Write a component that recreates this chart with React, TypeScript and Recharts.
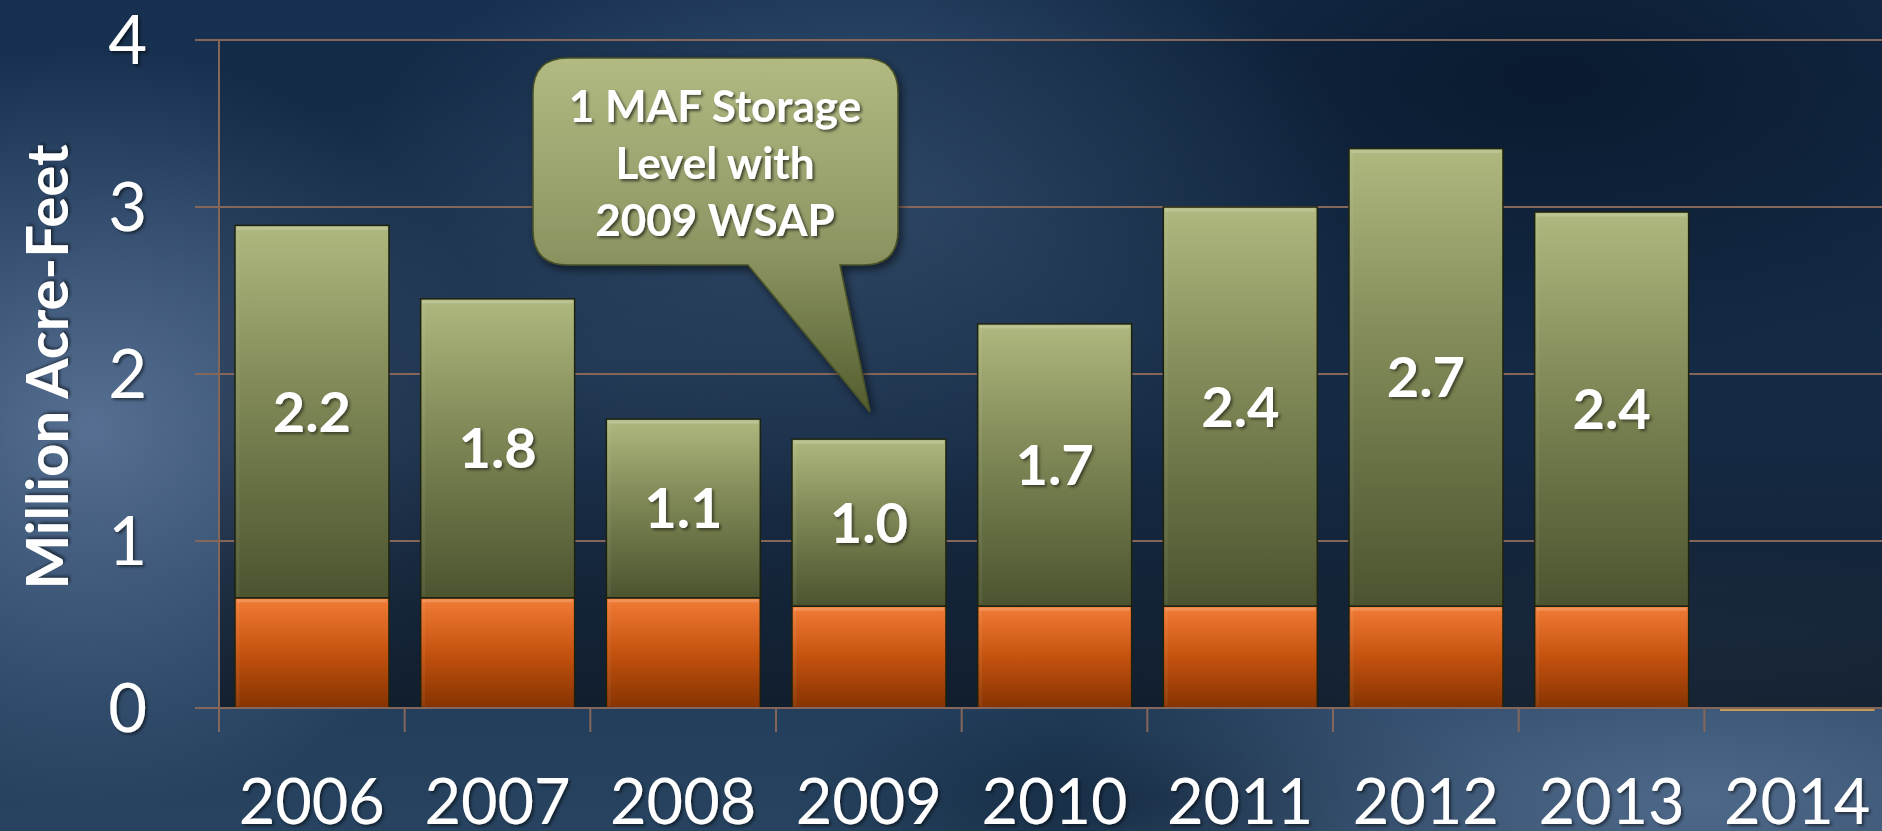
import React from 'react';
import { BarChart, Bar, XAxis, YAxis, CartesianGrid, LabelList } from 'recharts';

// values (million acre-feet)
const years = ['2006', '2007', '2008', '2009', '2010', '2011', '2012', '2013', '2014'];
const baseStorage = [0.66, 0.66, 0.66, 0.61, 0.61, 0.61, 0.61, 0.61, 0];
const addedStorage = [2.23, 1.79, 1.07, 1.0, 1.69, 2.39, 2.74, 2.36, null];
const yTicks = [0, 1, 2, 3, 4];
const calloutLines = ['1 MAF Storage', 'Level with', '2009 WSAP'];

const data = years.map((year, i) => ({ year, base: baseStorage[i], added: addedStorage[i] }));

const CHART_W = 1890;
const CHART_H = 831;
const Y_AXIS_W = 219;
const X_AXIS_H = 100;
const STEP = (CHART_W - Y_AXIS_W) / years.length;
const GRID = '#85665a';
const FONT = 'Lato, "Open Sans", sans-serif';

const BevelBar = (props: any) => {
  const { x, y, width, height, fill } = props;
  if (!height || height < 1) {
    // empty year: only a thin rim is left on the baseline
    return <line x1={x} x2={x + width} y1={y + 2} y2={y + 2} stroke="#c49a55" strokeWidth={2} />;
  }
  return (
    <g>
      <rect x={x} y={y} width={width} height={height} fill={fill} stroke="#1d2210" strokeWidth={1.5} />
      <rect x={x + 2} y={y + 1.5} width={width - 4} height={3} fill="rgba(255,255,255,0.18)" />
      <rect x={x + 1.5} y={y + 2} width={3} height={height - 4} fill="rgba(255,255,255,0.06)" />
    </g>
  );
};

const XTick = (props: any) => {
  const { x, y, payload } = props;
  return (
    <g>
      <line x1={x - STEP / 2} x2={x - STEP / 2} y1={y} y2={y + 24} stroke={GRID} strokeWidth={2} />
      <text x={x} y={y + 116} textAnchor="middle" fill="#fff" fontSize={63} fontFamily={FONT} filter="url(#txtShadow)">
        {payload.value}
      </text>
    </g>
  );
};

const YTick = (props: any) => {
  const { x, y, payload } = props;
  return (
    <text x={x} y={y} dy={24} textAnchor="end" fill="#fff" fontSize={67} fontFamily={FONT} filter="url(#txtShadow)">
      {payload.value}
    </text>
  );
};

const YTitle = (props: any) => {
  const { viewBox } = props;
  const cx = 68;
  const cy = viewBox.y + viewBox.height / 2 - 7;
  return (
    <text
      x={cx}
      y={cy}
      transform={`rotate(-90 ${cx} ${cy})`}
      textAnchor="middle"
      fill="#fff"
      fontSize={58}
      fontWeight={700}
      fontFamily={FONT}
      filter="url(#txtShadow)"
    >
      Million Acre-Feet
    </text>
  );
};

const ValueLabel = (props: any) => {
  const { x, y, width, height, value } = props;
  if (value == null) return null;
  return (
    <text
      x={x + width / 2}
      y={y + height / 2}
      dy={20}
      textAnchor="middle"
      fill="#fff"
      fontSize={56}
      fontWeight={700}
      fontFamily={FONT}
      filter="url(#txtShadow)"
    >
      {Number(value).toFixed(1)}
    </text>
  );
};

const Callout = () => (
  <svg width={1882} height={831} style={{ position: 'absolute', left: 0, top: 0, pointerEvents: 'none' }}>
    <defs>
      <linearGradient id="calloutFill" x1="0" y1="58" x2="0" y2="412" gradientUnits="userSpaceOnUse">
        <stop offset="0%" stopColor="#b2ba82" />
        <stop offset="55%" stopColor="#8c9562" />
        <stop offset="100%" stopColor="#535d2e" />
      </linearGradient>
      <filter id="calloutShadow" x="-10%" y="-10%" width="130%" height="130%">
        <feDropShadow dx="3" dy="4" stdDeviation="4" floodColor="#000" floodOpacity="0.55" />
      </filter>
      <filter id="calloutTxt">
        <feDropShadow dx="2" dy="2" stdDeviation="1.5" floodColor="#000" floodOpacity="0.6" />
      </filter>
    </defs>
    <path
      d="M568,58 H863 Q898,58 898,93 V230 Q898,265 863,265 H840 L870,412 L748,265 H568 Q533,265 533,230 V93 Q533,58 568,58 Z"
      fill="url(#calloutFill)"
      stroke="#4a5228"
      strokeWidth={1.5}
      filter="url(#calloutShadow)"
    />
    {calloutLines.map((line, i) => (
      <text
        key={line}
        x={715}
        y={122 + i * 57}
        textAnchor="middle"
        fill="#fff"
        fontSize={44}
        fontWeight={700}
        fontFamily={FONT}
        filter="url(#calloutTxt)"
      >
        {line}
      </text>
    ))}
  </svg>
);

export default function App() {
  return (
    <div
      style={{
        position: 'absolute',
        left: 0,
        top: 0,
        width: 1882,
        height: 831,
        overflow: 'hidden',
        background: [
          'radial-gradient(ellipse 420px 380px at 90px 430px, rgba(100,125,160,0.8), rgba(100,125,160,0) 100%)',
          'radial-gradient(ellipse 650px 260px at 1700px 800px, rgba(95,120,155,0.7), rgba(95,120,155,0) 100%)',
          'radial-gradient(ellipse 520px 300px at 860px 210px, rgba(80,110,145,0.6), rgba(80,110,145,0) 100%)',
          'radial-gradient(ellipse 650px 280px at 600px 360px, rgba(70,100,135,0.4), rgba(70,100,135,0) 100%)',
          'radial-gradient(ellipse 360px 120px at 1150px 800px, rgba(8,25,45,0.6), rgba(8,25,45,0) 100%)',
          'radial-gradient(ellipse 650px 300px at 1550px 80px, rgba(5,18,35,0.7), rgba(5,18,35,0) 100%)',
          'linear-gradient(180deg, #17304f 0%, #1c3757 60%, #27435f 100%)',
        ].join(', '),
      }}
    >
      <BarChart
        width={CHART_W}
        height={CHART_H}
        data={data}
        margin={{ top: 40, right: 0, bottom: 23, left: 0 }}
        barCategoryGap="8.6%"
      >
        <defs>
          <linearGradient id="greenFill" x1="0" y1="0" x2="0" y2="1">
            <stop offset="0%" stopColor="#afb87e" />
            <stop offset="45%" stopColor="#7f8856" />
            <stop offset="100%" stopColor="#4b542f" />
          </linearGradient>
          <linearGradient id="orangeFill" x1="0" y1="0" x2="0" y2="1">
            <stop offset="0%" stopColor="#f27c36" />
            <stop offset="50%" stopColor="#c4520f" />
            <stop offset="100%" stopColor="#853302" />
          </linearGradient>
          <linearGradient id="plotShade" x1="0" y1="0" x2="0" y2="1">
            <stop offset="0%" stopColor="#06182c" stopOpacity={0.2} />
            <stop offset="60%" stopColor="#0b1626" stopOpacity={0.4} />
            <stop offset="100%" stopColor="#0d1622" stopOpacity={0.8} />
          </linearGradient>
          <filter id="txtShadow">
            <feDropShadow dx="2" dy="2" stdDeviation="1.5" floodColor="#000" floodOpacity="0.5" />
          </filter>
        </defs>
        <CartesianGrid vertical={false} stroke={GRID} strokeWidth={2} fill="url(#plotShade)" />
        <XAxis
          dataKey="year"
          height={X_AXIS_H}
          tickLine={false}
          tickSize={0}
          tickMargin={0}
          axisLine={{ stroke: GRID, strokeWidth: 2 }}
          tick={<XTick />}
          interval={0}
        />
        <YAxis
          width={Y_AXIS_W}
          domain={[0, 4]}
          ticks={yTicks}
          tickSize={24}
          tickMargin={48}
          tickLine={{ stroke: GRID, strokeWidth: 2 }}
          axisLine={{ stroke: GRID, strokeWidth: 2 }}
          tick={<YTick />}
          label={<YTitle />}
        />
        <Bar dataKey="base" stackId="s" fill="url(#orangeFill)" shape={<BevelBar />} isAnimationActive={false} />
        <Bar dataKey="added" stackId="s" fill="url(#greenFill)" shape={<BevelBar />} isAnimationActive={false}>
          <LabelList dataKey="added" content={<ValueLabel />} />
        </Bar>
      </BarChart>
      <Callout />
    </div>
  );
}
